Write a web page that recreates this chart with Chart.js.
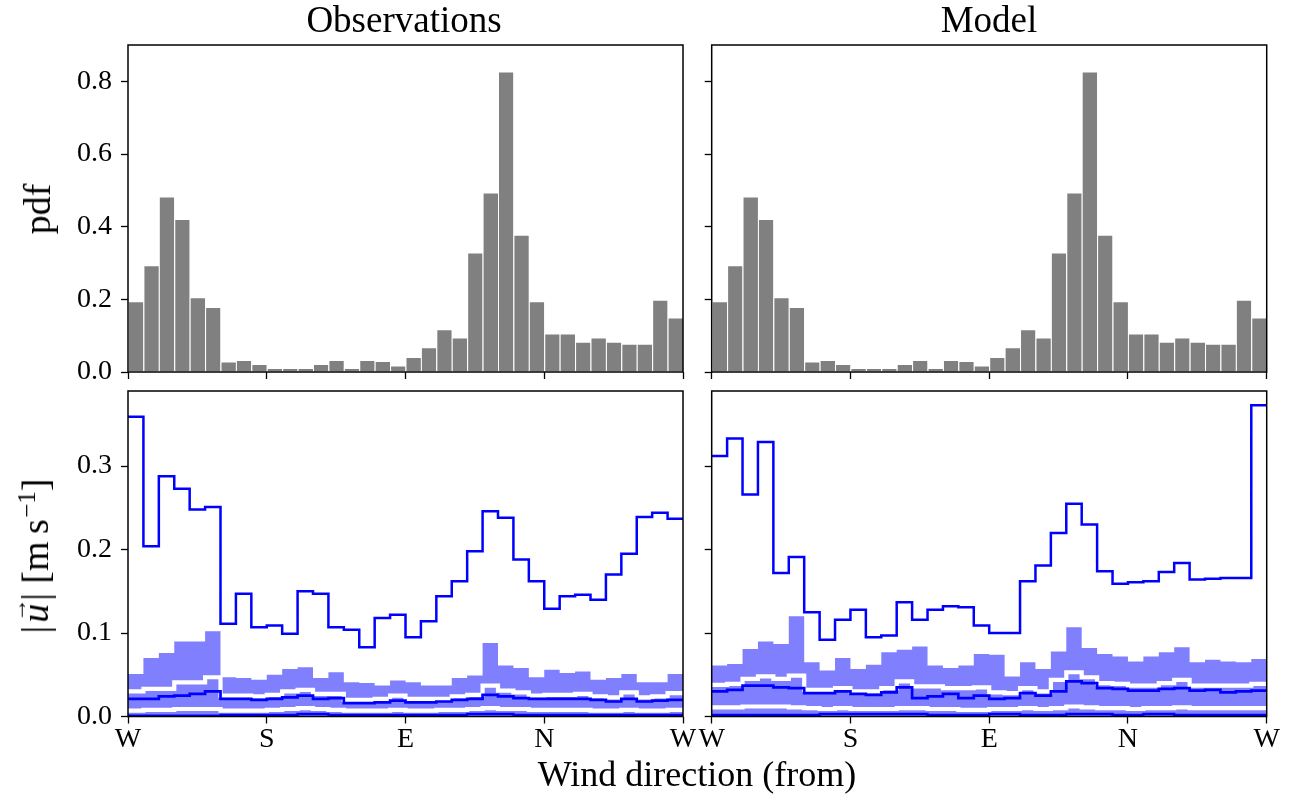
<!DOCTYPE html>
<html>
<head>
<meta charset="utf-8">
<script src="https://cdn.jsdelivr.net/npm/chart.js@4.4.1/dist/chart.umd.min.js"></script>
<style>
  html, body { margin: 0; padding: 0; background: #fff; }
  body { width: 1304px; height: 803px; position: relative; overflow: hidden; font-family: "Liberation Serif", "Times New Roman", serif; }
  .panel { position: absolute; }
  .panel canvas { display: block; }
  .lbl { position: absolute; white-space: nowrap; color: #000; font-size: 37px; line-height: 1; transform: translate(-50%, -50%); }
  .xlab { font-size: 36px; }
  .rot { transform: translate(-50%, -50%) rotate(-90deg); font-size: 38px; }
  .vec { position: relative; display: inline-block; margin: 0 0.08em; }
  .arr { position: absolute; left: 0.04em; top: -0.40em; font-size: 0.62em; font-style: normal; }
  .unit { margin-left: 0.25em; }
  sup { font-size: 0.66em; vertical-align: 0.5em; line-height: 0; margin-left: 0.05em; }
</style>
</head>
<body>

<div class="panel" style="left:0px;top:0px"><canvas id="pdfObs" width="700" height="385"></canvas></div>
<div class="panel" style="left:690px;top:0px"><canvas id="pdfModel" width="614" height="385"></canvas></div>
<div class="panel" style="left:0px;top:380px"><canvas id="speedObs" width="700" height="423"></canvas></div>
<div class="panel" style="left:690px;top:380px"><canvas id="speedModel" width="614" height="423"></canvas></div>

<div class="lbl" style="left:404px;top:19px">Observations</div>
<div class="lbl" style="left:989px;top:19px">Model</div>
<div class="lbl rot" style="left:37px;top:209px">pdf</div>
<div class="lbl rot" style="left:35px;top:556px">|<span class="vec"><i>u</i><span class="arr">&#8594;</span></span>|<span class="unit">[m&#8201;s<sup>&#8722;1</sup>]</span></div>
<div class="lbl xlab" style="left:697px;top:774px">Wind direction (from)</div>

<script>
// Direction bins (degrees), 10-degree wide, and the compass tick labels
const binEdges = [0, 10, 20, 30, 40, 50, 60, 70, 80, 90, 100, 110, 120, 130, 140, 150, 160, 170, 180,
                  190, 200, 210, 220, 230, 240, 250, 260, 270, 280, 290, 300, 310, 320, 330, 340, 350, 360];
const directionTicks = [0, 90, 180, 270, 360];
const directionLabels = ['W', 'S', 'E', 'N', 'W'];

// Probability density of wind direction
const obsPdf = [0.195, 0.294, 0.483, 0.421, 0.206, 0.179, 0.029, 0.033, 0.022, 0.011, 0.011, 0.011,
                0.022, 0.033, 0.011, 0.033, 0.030, 0.018, 0.041, 0.068, 0.118, 0.095, 0.329, 0.494,
                0.827, 0.378, 0.195, 0.106, 0.106, 0.083, 0.095, 0.083, 0.078, 0.078, 0.199, 0.150];
const modelPdf = [0.195, 0.294, 0.483, 0.421, 0.206, 0.179, 0.029, 0.033, 0.022, 0.011, 0.011, 0.011,
                  0.022, 0.033, 0.011, 0.033, 0.030, 0.018, 0.041, 0.068, 0.118, 0.095, 0.329, 0.494,
                  0.827, 0.378, 0.195, 0.106, 0.106, 0.083, 0.095, 0.083, 0.078, 0.078, 0.199, 0.150];

// Speed statistics per direction bin (m/s), observations
const obsUpper = [0.359, 0.204, 0.288, 0.273, 0.248, 0.251, 0.111, 0.147, 0.107, 0.109, 0.099, 0.150,
                  0.147, 0.107, 0.104, 0.083, 0.118, 0.122, 0.095, 0.114, 0.144, 0.162, 0.198, 0.246,
                  0.238, 0.188, 0.162, 0.129, 0.144, 0.146, 0.140, 0.170, 0.195, 0.239, 0.244, 0.237];
const obsBandHigh = [0.051, 0.070, 0.076, 0.090, 0.090, 0.102, 0.047, 0.046, 0.044, 0.050, 0.057, 0.059,
                     0.046, 0.053, 0.041, 0.040, 0.037, 0.043, 0.041, 0.037, 0.037, 0.046, 0.049, 0.088,
                     0.061, 0.058, 0.047, 0.056, 0.052, 0.054, 0.044, 0.046, 0.051, 0.041, 0.041, 0.051];
const obsWhiteHigh = [0.030, 0.033, 0.033, 0.041, 0.041, 0.047, 0.025, 0.025, 0.024, 0.026, 0.030, 0.032,
                      0.027, 0.027, 0.020, 0.020, 0.021, 0.025, 0.021, 0.021, 0.021, 0.024, 0.026, 0.037,
                      0.031, 0.029, 0.025, 0.026, 0.026, 0.027, 0.024, 0.023, 0.029, 0.023, 0.024, 0.028];
const obsMid = [0.021, 0.021, 0.024, 0.025, 0.027, 0.030, 0.021, 0.021, 0.020, 0.021, 0.023, 0.025,
                0.021, 0.022, 0.016, 0.016, 0.017, 0.019, 0.017, 0.017, 0.018, 0.020, 0.021, 0.026,
                0.024, 0.022, 0.021, 0.021, 0.021, 0.021, 0.020, 0.018, 0.021, 0.018, 0.019, 0.020];
const obsWhiteLow = [0.007, 0.008, 0.008, 0.009, 0.009, 0.009, 0.007, 0.007, 0.007, 0.008, 0.009, 0.010,
                     0.009, 0.008, 0.007, 0.007, 0.007, 0.008, 0.007, 0.007, 0.008, 0.008, 0.009, 0.010,
                     0.009, 0.009, 0.008, 0.008, 0.008, 0.008, 0.007, 0.007, 0.008, 0.007, 0.007, 0.008];
const obsFloor = [0.001, 0.001, 0.001, 0.001, 0.001, 0.001, 0.002, 0.002, 0.002, 0.002, 0.002, 0.003,
                  0.003, 0.002, 0.002, 0.002, 0.002, 0.002, 0.002, 0.002, 0.002, 0.002, 0.003, 0.003,
                  0.003, 0.002, 0.002, 0.002, 0.002, 0.002, 0.002, 0.002, 0.002, 0.002, 0.002, 0.002];

// Speed statistics per direction bin (m/s), model
const modelUpper = [0.312, 0.333, 0.266, 0.329, 0.172, 0.191, 0.125, 0.092, 0.116, 0.128, 0.095, 0.097,
                    0.137, 0.116, 0.128, 0.132, 0.131, 0.109, 0.100, 0.100, 0.162, 0.181, 0.220, 0.255,
                    0.230, 0.174, 0.159, 0.161, 0.162, 0.173, 0.184, 0.164, 0.165, 0.166, 0.166, 0.373];
const modelBandHigh = [0.061, 0.063, 0.081, 0.090, 0.087, 0.120, 0.065, 0.055, 0.070, 0.057, 0.062, 0.077,
                       0.080, 0.084, 0.061, 0.058, 0.061, 0.075, 0.074, 0.048, 0.065, 0.057, 0.078, 0.107,
                       0.082, 0.075, 0.072, 0.066, 0.072, 0.077, 0.083, 0.065, 0.068, 0.066, 0.065, 0.069];
const modelWhiteHigh = [0.038, 0.039, 0.045, 0.048, 0.045, 0.049, 0.032, 0.032, 0.034, 0.030, 0.030, 0.034,
                        0.042, 0.036, 0.036, 0.034, 0.034, 0.035, 0.029, 0.028, 0.034, 0.030, 0.044, 0.053,
                        0.047, 0.040, 0.039, 0.037, 0.037, 0.040, 0.044, 0.037, 0.037, 0.037, 0.037, 0.039];
const modelMid = [0.030, 0.032, 0.037, 0.037, 0.035, 0.034, 0.028, 0.028, 0.030, 0.027, 0.026, 0.029,
                  0.035, 0.022, 0.024, 0.027, 0.022, 0.025, 0.021, 0.022, 0.028, 0.025, 0.030, 0.042,
                  0.040, 0.034, 0.033, 0.031, 0.031, 0.033, 0.034, 0.031, 0.032, 0.029, 0.030, 0.031];
const modelWhiteLow = [0.011, 0.011, 0.012, 0.012, 0.012, 0.011, 0.010, 0.009, 0.010, 0.009, 0.009, 0.009,
                       0.010, 0.010, 0.009, 0.009, 0.008, 0.008, 0.009, 0.009, 0.010, 0.009, 0.010, 0.012,
                       0.011, 0.010, 0.010, 0.009, 0.010, 0.010, 0.011, 0.010, 0.010, 0.010, 0.010, 0.010];
const modelFloor = [0.002, 0.002, 0.002, 0.002, 0.002, 0.002, 0.002, 0.003, 0.003, 0.003, 0.003, 0.003,
                    0.003, 0.003, 0.002, 0.002, 0.002, 0.002, 0.003, 0.003, 0.002, 0.002, 0.002, 0.003,
                    0.003, 0.003, 0.002, 0.002, 0.003, 0.003, 0.002, 0.002, 0.002, 0.002, 0.002, 0.002];

const TICK_FONT = { family: '"Liberation Serif", "Times New Roman", serif', size: 28 };
const BLUE = '#0000ff';
const BAND = '#8080ff';

// Box around every plotting area
const framePlugin = {
  id: 'frame',
  afterDraw(chart) {
    const { ctx, chartArea: a } = chart;
    ctx.save();
    ctx.strokeStyle = '#000';
    ctx.lineWidth = 1.5;
    ctx.strokeRect(a.left, a.top, a.right - a.left, a.bottom - a.top);
    ctx.restore();
  }
};

// Force the axis box to a fixed size so the plot areas line up across panels
function fixSize(size) {
  return function (scale) {
    if (scale.isHorizontal()) scale.height = size; else scale.width = size;
    scale.paddingLeft = 0; scale.paddingRight = 0; scale.paddingTop = 0; scale.paddingBottom = 0;
  };
}

function binCenters(values) {
  return values.map((v, i) => ({ x: (binEdges[i] + binEdges[i + 1]) / 2, y: v }));
}

// Left bin edge carries the bin value; the last edge closes the final step
function stepPoints(values) {
  const pts = values.map((v, i) => ({ x: binEdges[i], y: v }));
  pts.push({ x: binEdges[values.length], y: values[values.length - 1] });
  return pts;
}

function xScale(showLabels, height) {
  return {
    type: 'linear', min: 0, max: 360, offset: false,
    afterBuildTicks: (scale) => { scale.ticks = directionTicks.map(v => ({ value: v })); },
    afterFit: fixSize(height),
    grid: { display: true, drawOnChartArea: false, drawTicks: true, tickLength: 7, tickWidth: 1.3, tickColor: '#000', offset: false },
    border: { display: false },
    ticks: {
      autoSkip: false, maxRotation: 0, minRotation: 0, padding: -1, color: '#000', font: TICK_FONT,
      callback: (v) => showLabels ? directionLabels[directionTicks.indexOf(v)] : ''
    }
  };
}

function yScale(max, step, showLabels, width) {
  return {
    type: 'linear', min: 0, max: max,
    afterFit: fixSize(width),
    grid: { display: true, drawOnChartArea: false, drawTicks: true, tickLength: 7, tickWidth: 1.3, tickColor: '#000' },
    border: { display: false },
    ticks: {
      stepSize: step, includeBounds: false, padding: 9, color: '#000', font: TICK_FONT,
      callback: (v) => showLabels ? Number(v).toFixed(1) : ''
    }
  };
}

const common = {
  responsive: false,
  animation: false,
  devicePixelRatio: 1,
  events: [],
  plugins: { legend: { display: false }, tooltip: { enabled: false }, title: { display: false } }
};

function pdfChart(id, values, isLeft) {
  const canvasW = isLeft ? 700 : 614;
  const yW = isLeft ? 128 : 21.7;
  const right = isLeft ? 683 : 576.7;
  new Chart(document.getElementById(id), {
    type: 'bar',
    data: {
      datasets: [{
        data: binCenters(values),
        backgroundColor: '#808080',
        borderColor: 'rgba(255,255,255,0.75)',
        borderWidth: { top: 1, left: 1, right: 0, bottom: 0 },
        borderSkipped: 'start',
        inflateAmount: 0,
        barPercentage: 1,
        categoryPercentage: 1
      }]
    },
    options: Object.assign({}, common, {
      layout: { padding: { left: 0, top: 45, right: canvasW - right, bottom: 385 - 372 - 8 } },
      scales: { x: xScale(false, 8), y: yScale(0.9, 0.2, isLeft, yW) }
    }),
    plugins: [framePlugin]
  });
}

function speedChart(id, s, isLeft) {
  const canvasW = isLeft ? 700 : 614;
  const yW = isLeft ? 128 : 21.7;
  const right = isLeft ? 683 : 576.7;
  const line = (values, color, width, order) => ({
    data: stepPoints(values), stepped: true, borderColor: color, borderWidth: width,
    borderJoinStyle: 'miter', borderCapStyle: 'butt', pointRadius: 0, fill: false, order: order
  });
  new Chart(document.getElementById(id), {
    type: 'line',
    data: {
      datasets: [
        line(s.upper, BLUE, 2.5, 0),
        line(s.floor, BLUE, 2.4, 1),
        line(s.whiteLow, '#ffffff', 4.2, 2),
        line(s.mid, BLUE, 2.7, 3),
        line(s.whiteHigh, '#ffffff', 4.2, 4),
        {
          data: stepPoints(s.bandHigh), stepped: true, borderWidth: 0, borderColor: 'rgba(0,0,0,0)',
          backgroundColor: BAND, pointRadius: 0, fill: 'origin', order: 5
        }
      ]
    },
    options: Object.assign({}, common, {
      layout: { padding: { left: 0, top: 11, right: canvasW - right, bottom: 423 - 336.5 - 50 } },
      scales: { x: xScale(true, 50), y: yScale(0.39, 0.1, isLeft, yW) }
    }),
    plugins: [framePlugin]
  });
}

pdfChart('pdfObs', obsPdf, true);
pdfChart('pdfModel', modelPdf, false);
speedChart('speedObs', {
  upper: obsUpper, bandHigh: obsBandHigh, whiteHigh: obsWhiteHigh,
  mid: obsMid, whiteLow: obsWhiteLow, floor: obsFloor
}, true);
speedChart('speedModel', {
  upper: modelUpper, bandHigh: modelBandHigh, whiteHigh: modelWhiteHigh,
  mid: modelMid, whiteLow: modelWhiteLow, floor: modelFloor
}, false);
</script>
</body>
</html>
